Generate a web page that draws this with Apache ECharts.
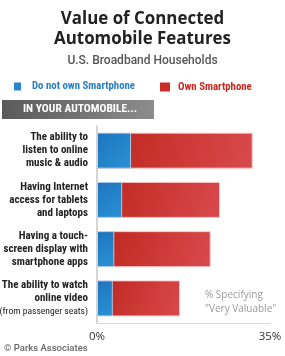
<!DOCTYPE html>
<html>
<head>
<meta charset="utf-8">
<script src="https://cdn.jsdelivr.net/npm/echarts@6/dist/echarts.min.js"></script>
<style>html,body{margin:0;padding:0;background:#fff}#c{width:285px;height:356px}</style>
</head>
<body>
<div id="c"></div>
<script>
const categories = [
  "The ability to\nlisten to online\nmusic & audio",
  "Having Internet\naccess for tablets\nand laptops",
  "Having a touch-\nscreen display with\nsmartphone apps",
  "The ability to watch\nonline video\n(from passenger seats)"
];
const seriesNames = ["Do not own Smartphone", "Own Smartphone"];
const noSmartphone = [6.9, 5.1, 3.5, 3.2];
const ownSmartphone = [31.5, 24.9, 23.0, 16.8];
const axisMin = 0, axisMax = 35;

const COND = '"Roboto Condensed","Liberation Sans",sans-serif';
const OPEN = '"Open Sans","Liberation Sans",sans-serif';
const ROBO = 'Roboto,"Liberation Sans",sans-serif';

const chart = echarts.init(document.getElementById('c'), null, {renderer: 'canvas'});

const blueGrad = new echarts.graphic.LinearGradient(0, 0, 1, 1, [
  {offset: 0, color: '#1c74bd'}, {offset: 1, color: '#2b92d4'}]);
const redGrad = new echarts.graphic.LinearGradient(0, 0, 1, 1, [
  {offset: 0, color: '#bd251c'}, {offset: 1, color: '#d94a4d'}]);

chart.setOption({
  animation: false,
  title: [
    {text: 'Value of Connected\nAutomobile Features', left: 'center', top: 4,
     textStyle: {fontFamily: OPEN, fontWeight: 'bold', fontSize: 16.9, lineHeight: 20, color: '#222'}},
    {text: 'U.S. Broadband Households', left: 'center', top: 50,
     textStyle: {fontFamily: ROBO, fontWeight: 500, fontSize: 12, color: '#555'}}
  ],
  legend: [
    {data: [{name: seriesNames[0], textStyle: {color: '#2a7fc4'}, itemStyle: {color: '#2a86cc', borderWidth: 0}}],
     left: 14, top: 81, padding: 0,
     icon: 'rect', itemWidth: 7, itemHeight: 8, itemGap: 8,
     textStyle: {fontFamily: COND, fontWeight: 'bold', fontSize: 10.8, padding: [0, 0, 0, 6]}},
    {data: [{name: seriesNames[1], textStyle: {color: '#c8281f'}, itemStyle: {color: '#cc2d26', borderWidth: 0}}],
     left: 160, top: 81.5, padding: 0,
     icon: 'rect', itemWidth: 10, itemHeight: 9, itemGap: 8,
     textStyle: {fontFamily: COND, fontWeight: 'bold', fontSize: 10.8, padding: [0, 0, 0, 3]}}
  ],
  grid: {left: 97, width: 173, top: 126, height: 197, containLabel: false, outerBoundsMode: 'none'},
  xAxis: {
    type: 'value', min: axisMin, max: axisMax, interval: 35,
    splitLine: {show: false},
    axisTick: {show: false},
    axisLine: {show: true, lineStyle: {color: '#cfcfcf', type: 'dotted', width: 1}},
    axisLabel: {formatter: v => v + '%', fontFamily: OPEN, fontSize: 11.5, color: '#333', margin: 8}
  },
  yAxis: {
    type: 'category', data: categories, inverse: true,
    axisTick: {show: false},
    axisLine: {show: true, lineStyle: {color: '#c8c8c8', width: 1.5}},
    axisLabel: {
      margin: 9, align: 'right',
      formatter: function (v) {
        return v.split('\n').map(l => l.startsWith('(') ? '{s|' + l + '}' : '{b|' + l + '}').join('\n');
      },
      rich: {
        b: {fontFamily: COND, fontWeight: 'bold', fontSize: 11, color: '#222', lineHeight: 13, align: 'right'},
        s: {fontFamily: COND, fontWeight: 'normal', fontSize: 9.6, color: '#222', lineHeight: 13, align: 'right'}
      }
    }
  },
  series: [
    {name: seriesNames[1], type: 'bar', data: ownSmartphone, barWidth: 36, barGap: '-100%',
     itemStyle: {color: redGrad, borderColor: 'rgba(255,200,200,0.9)', borderWidth: 1}},
    {name: seriesNames[0], type: 'bar', data: noSmartphone, barWidth: 36, barGap: '-100%', z: 3,
     itemStyle: {color: blueGrad, borderColor: 'rgba(190,225,250,0.8)', borderWidth: 1}}
  ],
  graphic: [
    {type: 'rect', left: 2, top: 100, shape: {width: 152, height: 19},
     style: {fill: new echarts.graphic.LinearGradient(0, 0, 1, 0, [
       {offset: 0, color: '#5a5a5a'}, {offset: 1, color: '#8c8c8c'}])}},
    {type: 'text', left: 23, top: 103,
     style: {text: 'IN YOUR AUTOMOBILE...', fill: '#fff', font: 'bold 11.5px ' + COND}},
    {type: 'text', left: 205, top: 288,
     style: {text: '% Specifying\n"Very Valuable"', fill: '#9a9a9a', font: '10px ' + OPEN, lineHeight: 14}},
    {type: 'text', left: 4, top: 344,
     style: {text: '\u00a9 Parks Associates', fill: '#666', font: '500 9.5px ' + ROBO}}
  ]
});
</script>
</body>
</html>
